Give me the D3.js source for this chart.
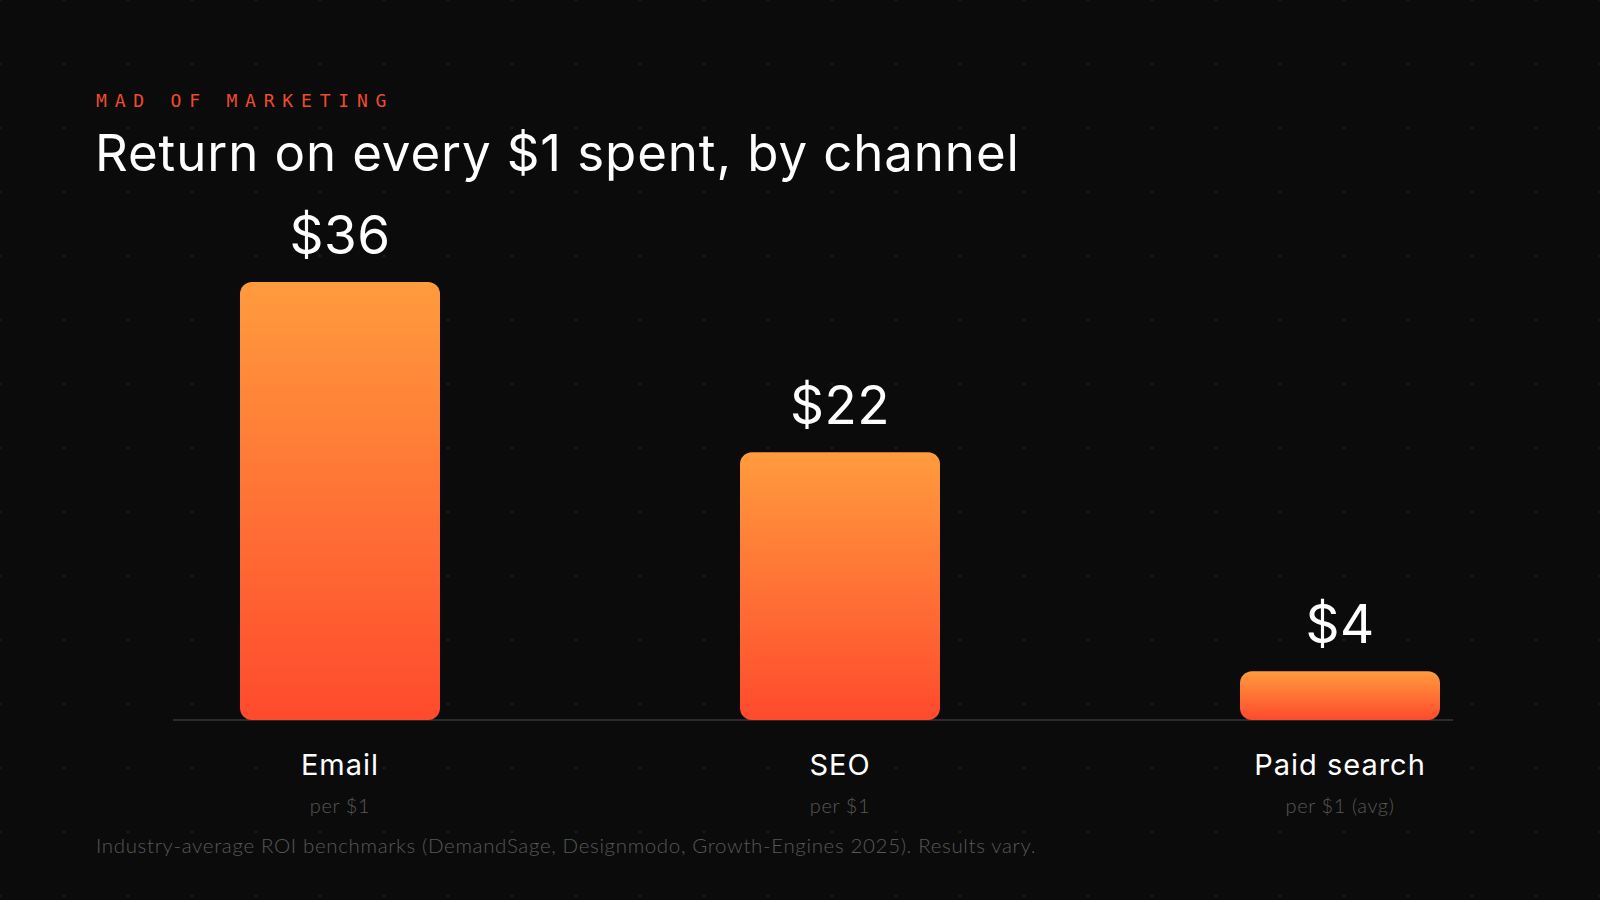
<!DOCTYPE html>
<html lang="en">
  <head>
    <meta charset="UTF-8" />
    <title>Return on every $1 spent, by channel</title>
    <script src="https://d3js.org/d3.v7.min.js"></script>
    <style>
      html, body { margin: 0; padding: 0; background: #0b0b0b; }
      svg { display: block; }
    </style>
  </head>
  <body>
    <div id="chart"></div>
    <script>
      // chart data
      const channels = ["Email", "SEO", "Paid search"];
      const returns = [36, 22, 4];
      const subLabels = ["per $1", "per $1", "per $1 (avg)"];
      const kicker = "MAD OF MARKETING";
      const title = "Return on every $1 spent, by channel";
      const footnote = "Industry-average ROI benchmarks (DemandSage, Designmodo, Growth-Engines 2025). Results vary.";

      const width = 1600;
      const height = 900;
      const baseY = 720;

      const svg = d3
        .select("#chart")
        .append("svg")
        .attr("width", width)
        .attr("height", height);

      const defs = svg.append("defs");

      // faint dot grid in the background
      const dots = defs
        .append("pattern")
        .attr("id", "dots")
        .attr("patternUnits", "userSpaceOnUse")
        .attr("x", -32)
        .attr("y", -32)
        .attr("width", 64)
        .attr("height", 64);
      dots.append("circle").attr("cx", 32).attr("cy", 32).attr("r", 1.3).attr("fill", "#1c1c1c");

      const grad = defs
        .append("linearGradient")
        .attr("id", "barGrad")
        .attr("x1", "0%").attr("y1", "0%")
        .attr("x2", "0%").attr("y2", "100%");
      grad.append("stop").attr("offset", "0%").attr("stop-color", "#ff9b3d");
      grad.append("stop").attr("offset", "100%").attr("stop-color", "#ff4a2d");

      svg.append("rect").attr("width", width).attr("height", height).attr("fill", "#0b0b0b");
      svg.append("rect").attr("width", width).attr("height", height).attr("fill", "url(#dots)");

      // scales
      const x = d3
        .scaleBand()
        .domain(channels)
        .range([90, 1590])
        .paddingInner(0.6)
        .paddingOuter(0.3);

      const y = d3.scaleLinear().domain([0, 36]).range([baseY, 282]);

      // heading
      svg
        .append("text")
        .attr("x", 96)
        .attr("y", 107)
        .attr("fill", "#f04a2c")
        .style("font-family", "'DejaVu Sans Mono', monospace")
        .style("font-size", "18px")
        .style("letter-spacing", "7.8px")
        .text(kicker);

      svg
        .append("text")
        .attr("x", 95)
        .attr("y", 171)
        .attr("fill", "#ffffff")
        .style("font-family", "Inter, sans-serif")
        .style("font-size", "51px")
        .style("font-weight", 400)
        .style("letter-spacing", "0.9px")
        .text(title);

      // baseline
      svg
        .append("line")
        .attr("x1", 173)
        .attr("x2", 1453)
        .attr("y1", baseY)
        .attr("y2", baseY)
        .attr("stroke", "#2b2b2b")
        .attr("stroke-width", 2);

      const data = channels.map((c, i) => ({ channel: c, value: returns[i], sub: subLabels[i] }));

      // bars
      svg
        .append("g")
        .selectAll("rect")
        .data(data)
        .join("rect")
        .attr("x", (d) => x(d.channel))
        .attr("y", (d) => y(d.value))
        .attr("width", x.bandwidth())
        .attr("height", (d) => y(0) - y(d.value))
        .attr("rx", 12)
        .attr("fill", "url(#barGrad)");

      // value labels
      svg
        .append("g")
        .selectAll("text")
        .data(data)
        .join("text")
        .attr("x", (d) => x(d.channel) + x.bandwidth() / 2)
        .attr("y", (d) => y(d.value) - 28)
        .attr("text-anchor", "middle")
        .attr("fill", "#ffffff")
        .style("font-family", "Inter, sans-serif")
        .style("font-size", "53px")
        .style("letter-spacing", "0.5px")
        .text((d) => "$" + d.value);

      // category labels
      svg
        .append("g")
        .selectAll("text")
        .data(data)
        .join("text")
        .attr("x", (d) => x(d.channel) + x.bandwidth() / 2)
        .attr("y", 775)
        .attr("text-anchor", "middle")
        .attr("fill", "#ffffff")
        .style("font-family", "Inter, sans-serif")
        .style("font-size", "29px")
        .style("font-weight", 400)
        .style("letter-spacing", "1px")
        .text((d) => d.channel);

      svg
        .append("g")
        .selectAll("text")
        .data(data)
        .join("text")
        .attr("x", (d) => x(d.channel) + x.bandwidth() / 2)
        .attr("y", 813)
        .attr("text-anchor", "middle")
        .attr("fill", "#585858")
        .style("font-family", "Lato, sans-serif")
        .style("font-size", "20px")
        .style("font-weight", 300)
        .style("letter-spacing", "0.6px")
        .text((d) => d.sub);

      // footnote
      svg
        .append("text")
        .attr("x", 96)
        .attr("y", 853)
        .attr("fill", "#585858")
        .style("font-family", "Lato, sans-serif")
        .style("font-size", "20.5px")
        .style("font-weight", 300)
        .style("letter-spacing", "0.65px")
        .text(footnote);
    </script>
  </body>
</html>
